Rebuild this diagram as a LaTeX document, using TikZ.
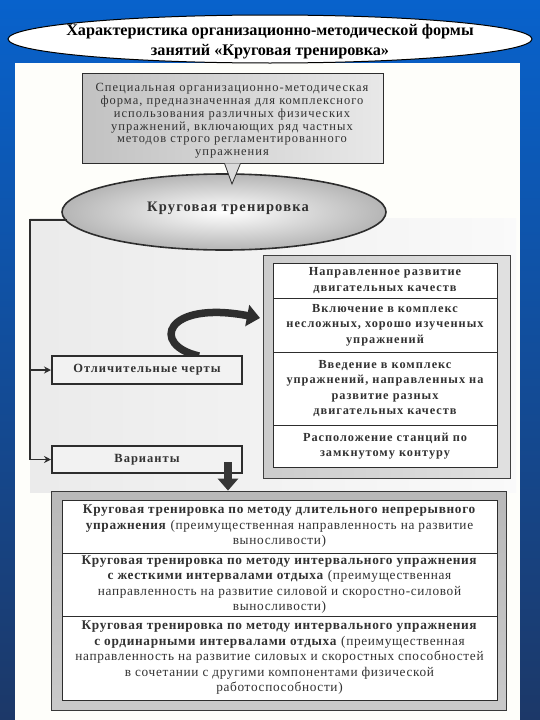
\documentclass[tikz,border=0pt]{standalone}
\usepackage{fontspec}
\setmainfont{Liberation Serif}
\newfontfamily\scanA[LetterSpace=5]{Liberation Serif}
\newfontfamily\scanB[LetterSpace=8]{Liberation Serif}
\usetikzlibrary{shapes.geometric,arrows.meta}
\definecolor{bgblue}{RGB}{8,98,204}
\definecolor{bgdark}{RGB}{28,56,104}
\definecolor{txt}{RGB}{50,50,50}
\definecolor{edge}{RGB}{45,45,45}
\definecolor{paper}{RGB}{254,254,250}
\begin{document}
\begin{tikzpicture}[x=1pt,y=-1pt,
  tabrow/.style={draw=edge, line width=0.8pt, fill=white, inner sep=0pt, align=center, text=txt},
  featbox/.style={draw=edge, line width=2pt, fill=gray!10, minimum width=190pt, inner sep=0pt,
     font=\scanB\bfseries\fontsize{12.5}{14}\selectfont, text=txt},
  conn/.style={draw=edge, line width=1.5pt, -{Stealth[length=7pt,width=7pt]}},
  rframe/.style={draw=gray!50!black, line width=0.8pt, left color=gray!40, right color=gray!24, inner sep=0pt},
  bframe/.style={draw=gray!45!black, line width=0.8pt, top color=gray!55, bottom color=gray!42, inner sep=0pt},
  righttext/.style={font=\scanB\bfseries\fontsize{12.3}{15.5}\selectfont},
  bottext/.style={font=\scanA\fontsize{13.3}{15.5}\selectfont}
]
\useasboundingbox (0,0) rectangle (540,720);
\shade[top color=bgblue, middle color=bgblue, bottom color=bgdark] (0,0) rectangle (540,720);
\fill[paper] (15,63) rectangle (520,720);
\shade[left color=gray!16, right color=gray!4] (30,218) rectangle (516,492);

% title
\node[ellipse, draw=black, line width=1pt, fill=white, minimum width=524pt, minimum height=48pt, inner sep=0pt] (title) at (270,39) {};
\node[font=\bfseries\fontsize{16.2}{20}\selectfont, align=center, text=black] (titletext) at (270,42)
 {Характеристика организационно-методической формы\\занятий «Круговая тренировка»};

% callout
\node[draw=edge, line width=0.8pt, left color=gray!48, right color=gray!18, minimum width=301pt, minimum height=90pt, inner sep=0pt] (spec) at (232.5,118) {};
\coordinate (ptr) at (232,184);
\node[font=\scanB\fontsize{12.5}{12.8}\selectfont, align=center, text=txt] (spectext) at (232,121)
 {Специальная организационно-методическая\\форма, предназначенная для комплексного\\использования различных физических\\упражнений, включающих ряд частных\\методов строго регламентированного\\упражнения};

% main ellipse
\node[ellipse, draw=edge, line width=1.6pt, inner color=white, outer color=gray!58, minimum width=324pt, minimum height=76pt, inner sep=0pt] (krug) at (224,212) {};
\node[font=\scanB\bfseries\fontsize{14.5}{16}\selectfont, text=txt] (krugtext) at (228,208) {Круговая тренировка};
\fill[gray!28] ([xshift=-8pt]spec.south) -- (ptr) -- ([xshift=8pt]spec.south) -- cycle;
\draw[edge, line width=0.8pt] ([xshift=-8pt]spec.south) -- (ptr) -- ([xshift=8pt]spec.south);

% right table
\node[rframe, minimum width=247pt, minimum height=223pt] (tabframe) at (386.5,366.5) {};
\node[tabrow, righttext, minimum width=224pt, minimum height=35pt] (r1) at (385,280.5)
 {Направленное развитие\\двигательных качеств};
\node[tabrow, righttext, minimum width=224pt, minimum height=54pt] (r2) at (385,325)
 {Включение в комплекс\\несложных, хорошо изученных\\упражнений};
\node[tabrow, righttext, minimum width=224pt, minimum height=73pt] (r3) at (385,388.5)
 {Введение в комплекс\\упражнений, направленных на\\развитие разных\\двигательных качеств};
\node[tabrow, righttext, minimum width=224pt, minimum height=42pt] (r4) at (385,446)
 {Расположение станций по\\замкнутому контуру};

% curved arrow
\coordinate (ctip) at (260,318);
\coordinate (cstart) at (199,356);
\draw[gray!36!black, line width=7.5pt, -{Triangle[length=13pt,width=21pt]}] (cstart) .. controls (150,345) and (165,300) .. (ctip);
\node[featbox, minimum height=28pt] (otl) at (147,370) {Отличительные черты};
\node[featbox, minimum height=27pt] (var) at (147,459.5) {Варианты};

% connectors
\coordinate (lc) at (30,220);
\draw[conn] ([xshift=6pt,yshift=-8pt]krug.west) -- (lc) |- (var.west);
\draw[conn] (lc |- otl.west) -- (otl.west);

% bottom table
\node[bframe, minimum width=455pt, minimum height=219pt] (botframe) at (279,600.5) {};
\node[tabrow, bottext, minimum width=435pt, minimum height=53pt] (b1) at (279.5,526.5)
 {\textbf{Круговая тренировка по методу длительного непрерывного}\\\textbf{упражнения} (преимущественная направленность на развитие\\выносливости)};
\node[tabrow, bottext, minimum width=435pt, minimum height=63pt] (b2) at (279.5,584.5)
 {\textbf{Круговая тренировка по методу интервального упражнения}\\\textbf{с жесткими интервалами отдыха} (преимущественная\\направленность на развитие силовой и скоростно-силовой\\выносливости)};
\node[tabrow, bottext, minimum width=435pt, minimum height=84pt] (b3) at (279.5,658)
 {\textbf{Круговая тренировка по методу интервального упражнения}\\\textbf{с ординарными интервалами отдыха} (преимущественная\\направленность на развитие силовых и скоростных способностей\\в сочетании с другими компонентами физической\\работоспособности)};

% down arrow
\draw[gray!42!black, line width=8pt, -{Triangle[length=12pt,width=20pt]}] ([xshift=81pt,yshift=12pt]var.south) -- ([xshift=-51pt]botframe.north);
\end{tikzpicture}
\end{document}
